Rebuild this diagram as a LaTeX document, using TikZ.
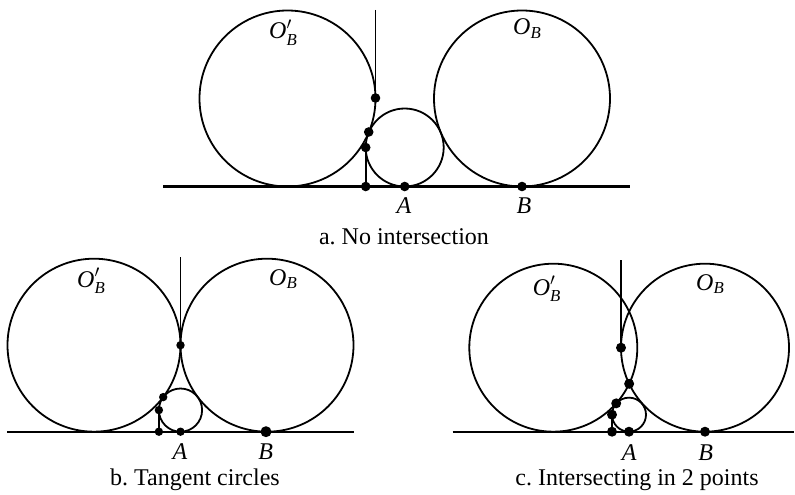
\documentclass[tikz,border=0pt]{standalone}
\usepackage{fontspec}
\setmainfont{Liberation Serif}
\frenchspacing
\begin{document}
\begin{tikzpicture}[x=1pt,y=-1pt,
  geo/.style={line width=1.8pt},
  baseln/.style={line width=2.1pt},
  lbl/.style={inner sep=0pt, font=\fontsize{24}{28}\selectfont}]
\useasboundingbox (0,0) rectangle (795,495);
% ---------------- panel a ----------------
\coordinate (aL) at (163,186.5);
\coordinate (aR) at (630,186.5);
\coordinate (aTop) at (375.5,10);
\coordinate (aT) at (375.5,98);
\coordinate (aK) at (368.7,132);
\coordinate (aS) at (365.7,147.5);
\coordinate (aF) at (365.7,186.5);
\coordinate (aA) at (404.7,186.5);
\coordinate (aB) at (522,186.5);
\draw[baseln] (aL) -- (aR);
\draw[geo] (287.5,98.5) circle[radius=88pt];
\draw[geo] (522,98.5) circle[radius=88pt];
\draw[geo] (404.7,147.5) circle[radius=39pt];
\draw[geo] (aTop) -- (aT);
\draw[geo] (aS) -- (aF);
\foreach \p in {aT,aK,aS,aF,aA,aB} \fill (\p) circle[radius=4.8pt];
\node[lbl, anchor=base west] (aOp) at (269,39) {$\mathit{O}'_{\mathit{B}}$};
\node[lbl, anchor=base west] (aO) at (513,35) {$\mathit{O}_{\mathit{B}}$};
\node[lbl, anchor=base] (aAl) at (404,213) {\textit{A}};
\node[lbl, anchor=base] (aBl) at (524,213) {\textit{B}};
\node[lbl, anchor=base] (capa) at (404,244) {a. No intersection};
% ---------------- panel b ----------------
\coordinate (bL) at (7,431.7);
\coordinate (bR) at (354,431.7);
\coordinate (bTop) at (180.5,257);
\coordinate (bT) at (180.5,345.2);
\coordinate (bK) at (163.2,397.1);
\coordinate (bS) at (158.9,410.1);
\coordinate (bF) at (158.9,431.7);
\coordinate (bA) at (180.5,431.7);
\coordinate (bB) at (266,431.7);
\draw[baseln] (bL) -- (bR);
\draw[geo] (94,345.2) circle[radius=86.5pt];
\draw[geo] (267,345.2) circle[radius=86.5pt];
\draw[geo] (180.5,410.1) circle[radius=21.6pt];
\draw[geo] (bTop) -- (bT);
\draw[geo] (bS) -- (bF);
\foreach \p in {bT,bK,bS,bF,bA} \fill (\p) circle[radius=4.2pt];
\fill (bB) circle[radius=5.5pt];
\node[lbl, anchor=base west] (bOp) at (77,287) {$\mathit{O}'_{\mathit{B}}$};
\node[lbl, anchor=base west] (bO) at (269,285) {$\mathit{O}_{\mathit{B}}$};
\node[lbl, anchor=base] (bAl) at (180,459) {\textit{A}};
\node[lbl, anchor=base] (bBl) at (265.7,459) {\textit{B}};
\node[lbl, anchor=base] (capb) at (195,485) {b. Tangent circles};
% ---------------- panel c ----------------
\coordinate (cL) at (452.7,431.7);
\coordinate (cR) at (794,431.7);
\coordinate (cTop) at (621,260);
\coordinate (cT) at (621,347.7);
\coordinate (cX) at (629.15,383.8);
\coordinate (cK) at (616.2,403.35);
\coordinate (cS) at (612,414.65);
\coordinate (cF) at (612,431.7);
\coordinate (cA) at (629,431.7);
\coordinate (cB) at (705,431.7);
\draw[baseln] (cL) -- (cR);
\draw[geo] (553.3,347.7) circle[radius=84pt];
\draw[geo] (705,347.7) circle[radius=84pt];
\draw[geo] (629,414.65) circle[radius=17pt];
\draw[geo] (cTop) -- (cT);
\draw[geo] (cS) -- (cF);
\foreach \p in {cT,cX,cK,cS,cF,cA,cB} \fill (\p) circle[radius=5pt];
\node[lbl, anchor=base west] (cOp) at (532.7,295) {$\mathit{O}'_{\mathit{B}}$};
\node[lbl, anchor=base west] (cO) at (696,290) {$\mathit{O}_{\mathit{B}}$};
\node[lbl, anchor=base] (cAl) at (629.3,460) {\textit{A}};
\node[lbl, anchor=base] (cBl) at (705.7,460) {\textit{B}};
\node[lbl, anchor=base] (capc) at (637,485) {c. Intersecting in 2 points};
\end{tikzpicture}
\end{document}
